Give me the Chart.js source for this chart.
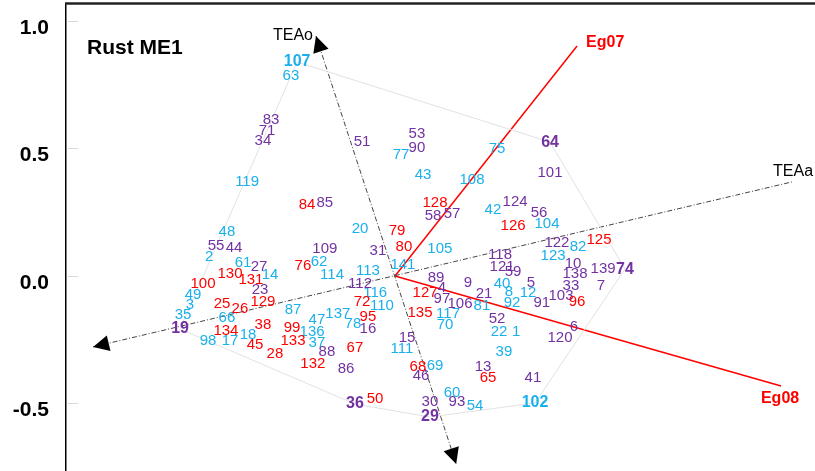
<!DOCTYPE html>
<html>
<head>
<meta charset="utf-8">
<script src="https://cdn.jsdelivr.net/npm/chart.js@4.4.0/dist/chart.umd.min.js"></script>
<style>
  html, body { margin: 0; padding: 0; background: #fff; }
  canvas { display: block; }
</style>
</head>
<body>
<canvas id="biplot" width="815" height="471"></canvas>
<script>
// GGE biplot, "Rust ME1" panel: genotype scores (PC1, PC2).
const panelTitle = "Rust ME1";
const yTicks = [-0.5, 0, 0.5, 1.0];

// genotypes, grouped by label colour: [id, PC1, PC2]
const blueGenotypes = [
  ["107", -0.384, 0.839], ["63", -0.408, 0.784], ["77", 0.024, 0.475], ["75", 0.400, 0.498],
  ["119", -0.580, 0.369], ["48", -0.659, 0.173], ["2", -0.729, 0.075], ["61", -0.596, 0.051],
  ["14", -0.490, 0.004], ["49", -0.792, -0.075], ["3", -0.804, -0.114], ["35", -0.831, -0.153],
  ["66", -0.659, -0.165], ["98", -0.733, -0.255], ["17", -0.647, -0.255], ["18", -0.576, -0.231],
  ["87", -0.400, -0.133], ["47", -0.306, -0.173], ["136", -0.325, -0.220], ["137", -0.224, -0.149],
  ["37", -0.306, -0.263], ["78", -0.165, -0.188], ["111", 0.027, -0.286], ["69", 0.157, -0.353],
  ["62", -0.298, 0.055], ["114", -0.247, 0.004], ["20", -0.137, 0.184], ["113", -0.106, 0.020],
  ["116", -0.078, -0.067], ["110", -0.051, -0.118], ["141", 0.031, 0.043], ["105", 0.176, 0.106],
  ["117", 0.208, -0.149], ["70", 0.196, -0.192], ["43", 0.110, 0.396], ["108", 0.302, 0.376],
  ["42", 0.384, 0.259], ["104", 0.596, 0.204], ["82", 0.718, 0.114], ["123", 0.620, 0.078],
  ["40", 0.420, -0.031], ["8", 0.447, -0.063], ["12", 0.522, -0.067], ["81", 0.341, -0.118],
  ["92", 0.459, -0.106], ["22", 0.408, -0.220], ["1", 0.475, -0.220], ["39", 0.427, -0.298],
  ["102", 0.549, -0.498], ["60", 0.224, -0.459], ["54", 0.314, -0.510]
];
const purpleGenotypes = [
  ["83", -0.486, 0.612], ["71", -0.502, 0.569], ["34", -0.518, 0.529], ["51", -0.129, 0.525],
  ["53", 0.086, 0.557], ["90", 0.086, 0.502], ["64", 0.608, 0.525], ["55", -0.702, 0.118],
  ["44", -0.631, 0.110], ["27", -0.533, 0.035], ["23", -0.529, -0.055], ["19", -0.843, -0.208],
  ["88", -0.267, -0.298], ["16", -0.106, -0.208], ["86", -0.192, -0.365], ["15", 0.047, -0.243],
  ["46", 0.102, -0.392], ["36", -0.157, -0.502], ["30", 0.137, -0.494], ["29", 0.137, -0.553],
  ["109", -0.275, 0.106], ["85", -0.275, 0.286], ["31", -0.067, 0.098], ["112", -0.137, -0.031],
  ["58", 0.149, 0.235], ["57", 0.224, 0.243], ["89", 0.161, -0.008], ["4", 0.184, -0.047],
  ["97", 0.184, -0.090], ["101", 0.608, 0.404], ["124", 0.471, 0.290], ["56", 0.565, 0.247],
  ["122", 0.635, 0.129], ["118", 0.412, 0.082], ["121", 0.420, 0.035], ["59", 0.463, 0.016],
  ["10", 0.698, 0.047], ["138", 0.706, 0.008], ["139", 0.816, 0.027], ["74", 0.902, 0.027],
  ["33", 0.690, -0.039], ["7", 0.808, -0.039], ["9", 0.286, -0.027], ["5", 0.533, -0.027],
  ["21", 0.349, -0.071], ["106", 0.255, -0.110], ["91", 0.576, -0.106], ["103", 0.651, -0.078],
  ["52", 0.400, -0.169], ["120", 0.647, -0.243], ["6", 0.702, -0.200], ["13", 0.345, -0.357],
  ["41", 0.541, -0.400], ["93", 0.243, -0.494]
];
const redGenotypes = [
  ["84", -0.345, 0.278], ["130", -0.647, 0.008], ["100", -0.753, -0.031], ["131", -0.565, -0.016],
  ["129", -0.518, -0.102], ["25", -0.678, -0.110], ["26", -0.608, -0.129], ["134", -0.663, -0.216],
  ["38", -0.518, -0.192], ["45", -0.549, -0.271], ["28", -0.471, -0.306], ["99", -0.404, -0.204],
  ["133", -0.400, -0.255], ["95", -0.106, -0.161], ["72", -0.129, -0.102], ["67", -0.157, -0.282],
  ["132", -0.322, -0.345], ["68", 0.090, -0.357], ["50", -0.078, -0.482], ["76", -0.361, 0.039],
  ["79", 0.008, 0.176], ["80", 0.035, 0.114], ["128", 0.157, 0.286], ["127", 0.118, -0.067],
  ["135", 0.098, -0.145], ["126", 0.463, 0.196], ["125", 0.800, 0.141], ["96", 0.714, -0.102],
  ["65", 0.365, -0.400]
];

// polygon (vertex genotypes are printed in bold)
const hullIds = ["107", "64", "74", "102", "29", "36", "19", "107"];
// environment vectors: [name, PC1, PC2]
const testers = [["Eg07", 0.714, 0.902], ["Eg08", 1.514, -0.431]];
// average-tester axes: [start, end] points
const teaAbscissa = [[-1.184, -0.278], [1.557, 0.369]];
const teaOrdinate = [[-0.310, 0.941], [0.240, -0.737]];

const BLUE = "#1ab0ec", PURPLE = "#7232a2", RED = "#ff0000";
const FONT = "'Liberation Sans', Arial, sans-serif";

const allGenotypes = blueGenotypes.concat(purpleGenotypes, redGenotypes);
const lookup = (id) => allGenotypes.find((g) => g[0] === id);
const toPts = (rows) => rows.map((r) => ({ x: r[1], y: r[2] }));

const groups = [
  { rows: blueGenotypes, color: BLUE },
  { rows: purpleGenotypes, color: PURPLE },
  { rows: redGenotypes, color: RED },
];

const datasets = [
  { data: hullIds.map((id) => { const g = lookup(id); return { x: g[1], y: g[2] }; }),
    showLine: true, borderColor: "#e2e2e2", borderWidth: 1, pointRadius: 0 },
  { data: teaAbscissa.map((p) => ({ x: p[0], y: p[1] })), showLine: true,
    borderColor: "#444", borderWidth: 1, borderDash: [5, 2, 1, 2], pointRadius: 0 },
  { data: teaOrdinate.map((p) => ({ x: p[0], y: p[1] })), showLine: true,
    borderColor: "#444", borderWidth: 1, borderDash: [5, 2, 1, 2], pointRadius: 0 },
];
testers.forEach((t) => datasets.push({
  data: [{ x: 0, y: 0 }, { x: t[1], y: t[2] }], showLine: true,
  borderColor: RED, borderWidth: 1.5, pointRadius: 0,
}));
const firstGroup = datasets.length;
groups.forEach((g) => datasets.push({ data: toPts(g.rows), pointRadius: 0 }));

function arrowHead(ctx, tip, from) {
  const ang = Math.atan2(tip.y - from.y, tip.x - from.x);
  const len = 16, half = 8;
  const bx = tip.x - len * Math.cos(ang), by = tip.y - len * Math.sin(ang);
  ctx.beginPath();
  ctx.moveTo(tip.x, tip.y);
  ctx.lineTo(bx + half * Math.sin(ang), by - half * Math.cos(ang));
  ctx.lineTo(bx - half * Math.sin(ang), by + half * Math.cos(ang));
  ctx.closePath();
  ctx.fill();
}

const biplotPlugin = {
  id: "biplot",
  afterDatasetsDraw(chart) {
    const { ctx, chartArea: a, scales: { y } } = chart;
    ctx.save();
    // tick marks on the inside of the y axis
    ctx.strokeStyle = "#d8d8d8";
    ctx.lineWidth = 1;
    yTicks.forEach((v) => {
      const py = Math.round(y.getPixelForValue(v)) + 0.5;
      ctx.beginPath(); ctx.moveTo(a.left + 2, py); ctx.lineTo(a.left + 12, py); ctx.stroke();
    });
    // top frame line
    ctx.strokeStyle = "#222";
    ctx.lineWidth = 2.5;
    ctx.beginPath(); ctx.moveTo(a.left - 1, a.top - 1.5); ctx.lineTo(a.right, a.top - 1.5); ctx.stroke();

    // arrow heads on the tester axes
    ctx.fillStyle = "#000";
    const ab = chart.getDatasetMeta(1).data, ord = chart.getDatasetMeta(2).data;
    arrowHead(ctx, ab[0], ab[1]);
    arrowHead(ctx, ord[0], ord[1]);
    arrowHead(ctx, ord[1], ord[0]);

    ctx.textBaseline = "middle";
    ctx.font = "16px " + FONT;
    ctx.textAlign = "right";
    ctx.fillText("TEAo", ord[0].x - 3, ord[0].y);
    ctx.textAlign = "center";
    ctx.fillText("TEAa", ab[1].x + 1, ab[1].y - 10);

    // environment labels
    ctx.fillStyle = RED;
    ctx.font = "bold 16px " + FONT;
    const e1 = chart.getDatasetMeta(3).data[1], e2 = chart.getDatasetMeta(4).data[1];
    ctx.textAlign = "left";
    ctx.fillText(testers[0][0], e1.x + 9, e1.y - 3);
    ctx.textAlign = "center";
    ctx.fillText(testers[1][0], e2.x - 1, e2.y + 13);

    // genotype labels
    groups.forEach((g, gi) => {
      const pts = chart.getDatasetMeta(firstGroup + gi).data;
      ctx.fillStyle = g.color;
      pts.forEach((p, i) => {
        const id = g.rows[i][0];
        ctx.font = (hullIds.includes(id) ? "bold 16px " : "15px ") + FONT;
        ctx.fillText(id, p.x, p.y);
      });
    });

    // panel title
    ctx.fillStyle = "#000";
    ctx.textAlign = "left";
    ctx.textBaseline = "alphabetic";
    ctx.font = "bold 21px " + FONT;
    ctx.fillText(panelTitle, a.left + 21, a.top + 49);
    ctx.restore();
  },
};

new Chart(document.getElementById("biplot"), {
  type: "scatter",
  data: { datasets },
  options: {
    responsive: false,
    animation: false,
    devicePixelRatio: 1,
    layout: { padding: { top: 5, right: 0, bottom: 0, left: 0 } },
    plugins: { legend: { display: false }, tooltip: { enabled: false } },
    scales: {
      x: { type: "linear", display: false, min: -1.2902, max: 1.6471 },
      y: {
        type: "linear", min: -0.7647, max: 1.0627,
        afterBuildTicks: (s) => { s.ticks = yTicks.map((v) => ({ value: v })); },
        afterFit: (s) => { s.width = 66; s.paddingTop = 0; s.paddingBottom = 0; },
        grid: { drawOnChartArea: false, drawTicks: false },
        border: { display: true, color: "#000", width: 1.5 },
        ticks: {
          padding: 17, labelOffset: 7, color: "#000",
          font: { family: FONT, size: 21, weight: "bold" },
          callback: (v) => v.toFixed(1),
        },
      },
    },
  },
  plugins: [biplotPlugin],
});
</script>
</body>
</html>
